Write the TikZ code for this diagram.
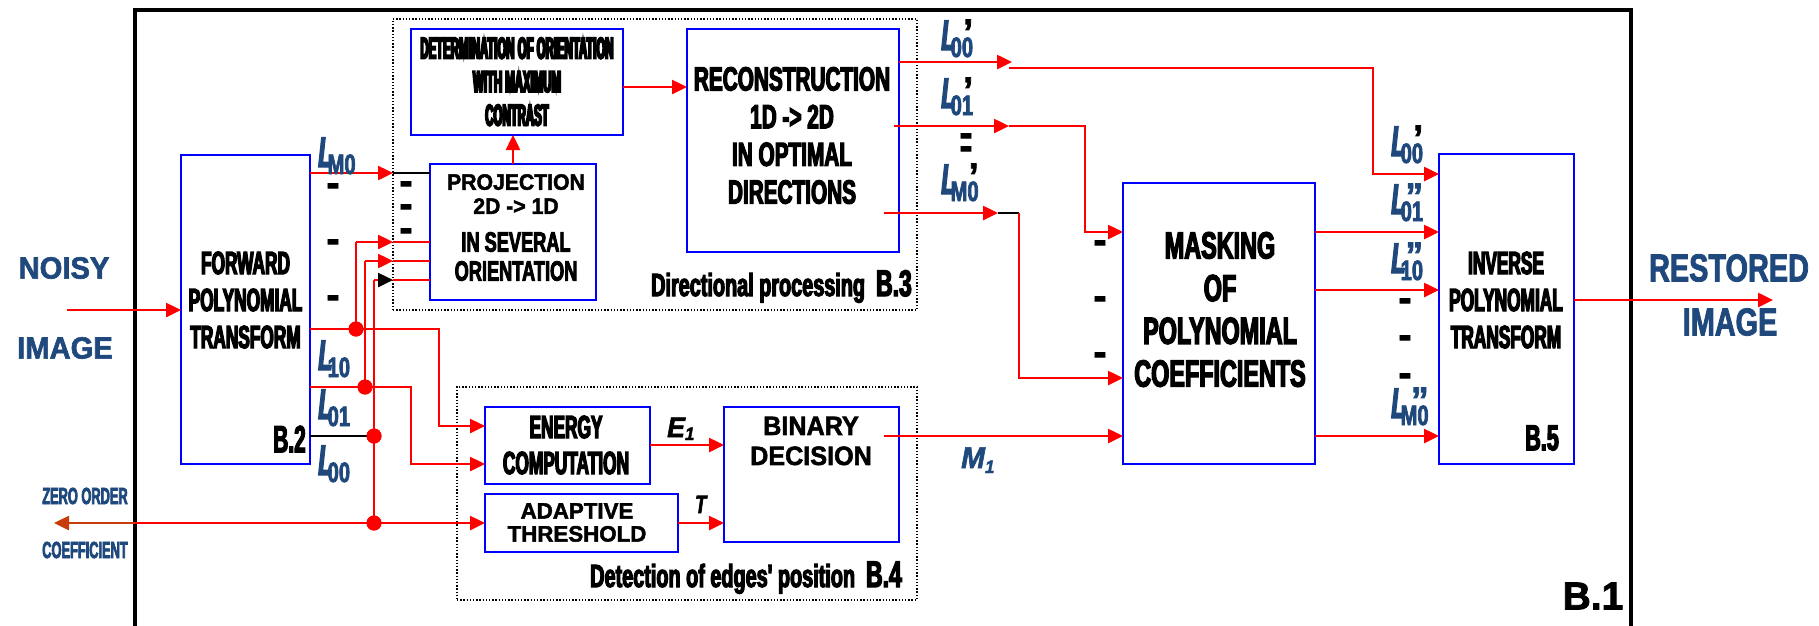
\documentclass[tikz,border=0pt]{standalone}
\usepackage{fontspec}
\setmainfont{Liberation Sans}
\usetikzlibrary{arrows.meta}
\newfontfamily\fDet{Liberation Sans}[FakeStretch=0.38,FakeBold=6]
\newfontfamily\fA{Liberation Sans}[FakeStretch=0.54,FakeBold=4]
\newfontfamily\fB{Liberation Sans}[FakeStretch=0.62,FakeBold=3.5]
\newfontfamily\fC{Liberation Sans}[FakeStretch=0.65,FakeBold=3]
\newfontfamily\fD{Liberation Sans}[FakeStretch=0.95,FakeBold=2]
\newfontfamily\fE{Liberation Sans}[FakeStretch=0.74,FakeBold=2]
\newfontfamily\fF{Liberation Sans}[FakeStretch=0.55,FakeBold=3]
\newfontfamily\fG{Liberation Sans}[FakeStretch=0.6,FakeBold=3.5]
\newfontfamily\fH{Liberation Sans}[FakeStretch=0.72,FakeBold=2.5]
\newfontfamily\fK{Liberation Sans}[FakeBold=2]
\definecolor{dblue}{RGB}{31,73,125}
\definecolor{zor}{RGB}{200,60,10}
\newcommand\Lsym[2]{{\fF\bfseries\itshape\fontsize{43}{43}\selectfont L}\kern-5pt{\fH\bfseries\fontsize{28}{28}\selectfont\raisebox{-7pt}{#1}}\llap{\raisebox{5pt}{#2}}}
\newcommand\primeW{{\color{black}\fD\bfseries\fontsize{37}{37}\selectfont ’}}
\newcommand\primeD{{\fD\bfseries\fontsize{37}{37}\selectfont ”}}
\begin{document}
\begin{tikzpicture}[x=1pt,y=-1pt,
  blk/.style={draw=blue, line width=2pt, inner sep=0pt, outer sep=0pt},
  grp/.style={draw=black, line width=1.4pt, dash pattern=on 1.4pt off 1.8pt, inner sep=0pt, outer sep=0pt},
  con/.style={draw=red, line width=2.5pt},
  arr/.style={con, -{Triangle[length=15pt,width=14pt]}},
  wireb/.style={draw=black, line width=1.5pt},
  dot/.style={circle, fill=red, inner sep=0pt, minimum size=15pt},
  txt/.style={inner sep=0pt, align=center},
  lab/.style={anchor=base west, inner sep=0pt, text=dblue},
  hyph/.style={inner sep=0pt, yshift=-3.8pt, font=\fK\bfseries\fontsize{40}{40}\selectfont}]
\useasboundingbox (0,0) rectangle (1819,625);
\fill[white] (0,0) rectangle (1819,625);
\clip (0,0) rectangle (1819,625);

% outer frame B.1 (open at the bottom, beyond the page)
\node[draw, line width=3.5pt, inner sep=0pt, outer sep=0pt, minimum width=1496pt, minimum height=700pt, anchor=north west] (frame) at (135,10) {};

% groups
\node[grp, minimum width=524pt, minimum height=291pt] (B3) at (655,164.5) {};
\node[grp, minimum width=460pt, minimum height=213pt] (B4) at (687,493.5) {};

% blocks
\node[blk, minimum width=129pt, minimum height=309pt] (fwd) at (245.5,309.5) {};
\node[blk, minimum width=212pt, minimum height=106pt] (det) at (517,82) {};
\node[blk, minimum width=166pt, minimum height=136pt] (proj) at (513,232) {};
\node[blk, minimum width=212pt, minimum height=223pt] (recon) at (793,140.5) {};
\node[blk, minimum width=192pt, minimum height=281pt] (mask) at (1219,323.5) {};
\node[blk, minimum width=165pt, minimum height=77pt] (energy) at (567.5,445.5) {};
\node[blk, minimum width=193pt, minimum height=58pt] (adapt) at (581.5,523) {};
\node[blk, minimum width=175pt, minimum height=135pt] (binary) at (811.5,474.5) {};
\node[blk, minimum width=135pt, minimum height=310pt] (inv) at (1506.5,309) {};

% coordinates
\coordinate (inS) at (67,310);
\coordinate (m0a) at (393,173);
\coordinate (v1) at (356,242);
\coordinate (v2) at (365,261);
\coordinate (v3) at (374,280);
\coordinate (e1) at (439,426);
\coordinate (e2) at (411,464);
\coordinate (zo) at (54,523);
\coordinate (dr) at (623,87);
\coordinate (o1) at (1012,62);
\coordinate (o1b) at (1009,68);
\coordinate (o1c) at (1373,68);
\coordinate (i1) at (1373,174);
\coordinate (o2) at (1009,126);
\coordinate (o2c) at (1085,232);
\coordinate (o3) at (998,213);
\coordinate (o3c) at (1019,378);
\coordinate (b1) at (884,436);
\coordinate (m2) at (1315,290);
\coordinate (out) at (1773,300);
\coordinate (eb) at (650,445);

\node[dot] (d1) at (356,329) {};
\node[dot] (d2) at (365,387) {};
\node[dot] (d3) at (374,436) {};
\node[dot] (d4) at (374,523) {};

% input
\draw[arr] (inS) -- (inS -| fwd.west);
% L_M0
\draw[arr] (fwd.east |- m0a) -- (m0a);
\draw[wireb] (m0a) -- (m0a -| proj.west);
% three branches into the projection
\draw[con] (d1.center) -- (v1);
\draw[con] (d2.center) -- (v2);
\draw[con] (v3) -- (d4.center);
\draw[arr] (v1) -- (v1 -| B3.west);
\draw[arr] (v2) -- (v2 -| B3.west);
\draw[con, -{Triangle[length=15pt,width=14pt,color=black]}] (v3) -- (v3 -| B3.west);
\draw[con] (v1 -| B3.west) -- (v1 -| proj.west);
\draw[con] (v2 -| B3.west) -- (v2 -| proj.west);
\draw[con] (v3 -| B3.west) -- (v3 -| proj.west);
% to energy computation
\draw[arr] (fwd.east |- d1) -- (e1 |- d1) -- (e1) -- (e1 -| energy.west);
\draw[arr] (fwd.east |- d2) -- (e2 |- d2) -- (e2) -- (e2 -| energy.west);
\draw[wireb] (fwd.east |- d3) -- (d3.center);
% to adaptive threshold and zero-order coefficient
\draw[arr] (d4.center) -- (d4 -| adapt.west);
\draw[con] (d4.center) -- (d4 -| frame.west);
\draw[draw=zor, line width=2.5pt, -{Triangle[length=15pt,width=14pt]}] (d4 -| frame.west) -- (zo);
% directional processing
\draw[arr] (proj.north) -- (proj.north |- det.south);
\draw[arr] (det.east |- dr) -- (recon.west |- dr);
\draw[arr] (recon.east |- o1) -- (o1);
\draw[arr] (o1b) -- (o1c) -- (i1) -- (i1 -| inv.west);
\draw[arr] ([xshift=-5pt]recon.east |- o2) -- (o2);
\draw[arr] (o2) -- (o2c |- o2) -- (o2c) -- (o2c -| mask.west);
\draw[arr] ([xshift=-15pt]recon.east |- o3) -- (o3);
\draw[wireb] (o3) -- (o3c |- o3);
\draw[arr] (o3c |- o3) -- (o3c) -- (o3c -| mask.west);
% detection
\draw[arr] (energy.east |- eb) -- (binary.west |- eb);
\draw[arr] (adapt.east) -- (binary.west |- adapt.east);
\draw[arr] (b1) -- (b1 -| mask.west);
% masking outputs
\draw[arr] (mask.east |- o2c) -- (inv.west |- o2c);
\draw[arr] (m2) -- (m2 -| inv.west);
\draw[arr] (mask.east |- b1) -- (inv.west |- b1);
% output
\draw[arr] (inv.east |- out) -- (out);

% redraw dots on top
\node[dot] at (d1) {};
\node[dot] at (d2) {};
\node[dot] at (d3) {};
\node[dot] at (d4) {};

% block texts
\node[txt, font=\fA\bfseries\fontsize{32}{37}\selectfont] (fwdt) at (245.5,300) {FORWARD\\POLYNOMIAL\\TRANSFORM};
\node[txt, font=\fF\bfseries\fontsize{38}{38}\selectfont] (b2t) at (289.5,439) {B.2};
\node[txt, font=\fDet\bfseries\fontsize{30}{33.5}\selectfont] (dett) at (517,81.7) {DETERMINATION OF ORIENTATION\\WITH MAXIMUM\\CONTRAST};
\node[txt, font=\fD\bfseries\fontsize{22.3}{24}\selectfont] (projt1) at (516,194) {PROJECTION\\2D -> 1D};
\node[txt, font=\fC\bfseries\fontsize{28}{29}\selectfont] (projt2) at (516,256.5) {IN SEVERAL\\ORIENTATION};
\node[txt, font=\fB\bfseries\fontsize{33.5}{37.7}\selectfont] (recont) at (792,135.5) {RECONSTRUCTION\\1D -> 2D\\IN OPTIMAL\\DIRECTIONS};
\node[txt, font=\fB\bfseries\fontsize{37.7}{42.7}\selectfont] (maskt) at (1220,309.5) {MASKING\\OF\\POLYNOMIAL\\COEFFICIENTS};
\node[txt, font=\fA\bfseries\fontsize{32}{36}\selectfont] (energyt) at (566,445) {ENERGY\\COMPUTATION};
\node[txt, font=\fK\bfseries\fontsize{22.3}{23}\selectfont] (adaptt) at (577,522.5) {ADAPTIVE\\THRESHOLD};
\node[txt, font=\fD\bfseries\fontsize{26.5}{30}\selectfont] (binaryt) at (811,441) {BINARY\\DECISION};
\node[txt, font=\fA\bfseries\fontsize{32}{37}\selectfont] (invt) at (1506,300) {INVERSE\\POLYNOMIAL\\TRANSFORM};
\node[txt, font=\fG\bfseries\fontsize{36}{36}\selectfont] (b5t) at (1542,438) {B.5};
\node[txt, font=\fK\bfseries\fontsize{39}{39}\selectfont] (b1t) at (1593,596) {B.1};
\node[anchor=base east, inner sep=0pt, font=\fB\bfseries\fontsize{32}{32}\selectfont] (b3t) at (912,296) {Directional processing\ \ {\fontsize{37}{37}\selectfont B.3}};
\node[anchor=base east, inner sep=0pt, font=\fB\bfseries\fontsize{32}{32}\selectfont] (b4t) at (902,587) {Detection of edges' position\ \ {\fontsize{37}{37}\selectfont B.4}};

% outside texts
\node[txt, text=dblue, font=\fD\bfseries\fontsize{30.7}{30.7}\selectfont] (noisy) at (64,268) {NOISY};
\node[txt, text=dblue, font=\fD\bfseries\fontsize{30.7}{30.7}\selectfont] (image1) at (65,348) {IMAGE};
\node[txt, text=dblue, font=\fE\bfseries\fontsize{39}{39}\selectfont] (restored) at (1729,268) {RESTORED};
\node[txt, text=dblue, font=\fE\bfseries\fontsize{39}{39}\selectfont] (image2) at (1730,322) {IMAGE};
\node[txt, text=dblue, font=\fF\bfseries\fontsize{23.3}{23.3}\selectfont] (zero) at (85,496) {ZERO ORDER};
\node[txt, text=dblue, font=\fF\bfseries\fontsize{23.3}{23.3}\selectfont] (coef) at (85,550) {COEFFICIENT};

% signal labels
\node[lab] (lm0) at (318,167) {\Lsym{M0}{}};
\node[lab] (l10) at (318,370) {\Lsym{10}{}};
\node[lab] (l01) at (318,419) {\Lsym{01}{}};
\node[lab] (l00) at (318,475) {\Lsym{00}{}};
\node[lab] (lp00) at (941,50) {\Lsym{00}{\primeW}};
\node[lab] (lp01) at (941,108) {\Lsym{01}{\primeW}};
\node[lab] (lpm0) at (941,194) {\Lsym{M0}{\primeW}};
\node[lab] (lpp00) at (1391,156) {\Lsym{00}{\primeW}};
\node[lab] (lpp01) at (1391,214) {\Lsym{01}{\primeD}};
\node[lab] (lpp10) at (1391,273) {\Lsym{10}{\primeD}};
\node[lab] (lppm0) at (1391,418) {\Lsym{M0}{\primeD}};
\node[anchor=base west, inner sep=0pt, font=\fD\bfseries\itshape\fontsize{28}{28}\selectfont] (E1) at (667,437) {E\raisebox{-3pt}{\fontsize{18}{18}\selectfont 1}};
\node[anchor=base west, inner sep=0pt, font=\fH\bfseries\itshape\fontsize{25}{25}\selectfont] (Tl) at (695,513) {T};
\node[lab, font=\fD\bfseries\itshape\fontsize{30}{30}\selectfont] (M1) at (961,468) {M\raisebox{-5pt}{\fontsize{18}{18}\selectfont 1}};

% vertical dot leaders
\node[hyph] (h1) at (333,186) {-};
\node[hyph] (h2) at (333,242) {-};
\node[hyph] (h3) at (333,298) {-};
\node[hyph] (h4) at (406,184) {-};
\node[hyph] (h5) at (406,207) {-};
\node[hyph] (h6) at (406,231) {-};
\node[hyph] (h7) at (966,136) {-};
\node[hyph] (h8) at (966,149) {-};
\node[hyph] (h9) at (1100,243) {-};
\node[hyph] (h10) at (1100,299) {-};
\node[hyph] (h11) at (1100,355) {-};
\node[hyph] (h12) at (1405,301) {-};
\node[hyph] (h13) at (1405,338) {-};
\node[hyph] (h14) at (1405,376) {-};
\end{tikzpicture}
\end{document}
